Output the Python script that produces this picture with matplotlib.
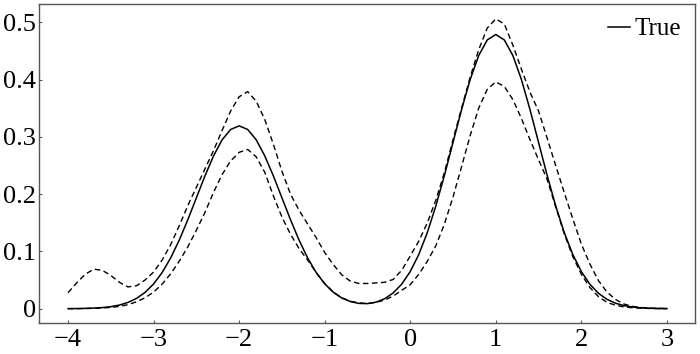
import matplotlib
matplotlib.use("Agg")
import matplotlib.pyplot as plt
import numpy as np

# grid of x positions read at 0.1 steps from -4 to 3
x = np.round(np.arange(-40, 31) / 10, 1)

true_vals = [
    0.0001, 0.0002, 0.0005, 0.0010, 0.0019, 0.0035, 0.0063, 0.0109, 0.0179, 0.0284,
    0.0432, 0.0632, 0.0887, 0.1198, 0.1554, 0.1936, 0.2318, 0.2666, 0.2947, 0.3129,
    0.3192, 0.3129, 0.2947, 0.2666, 0.2318, 0.1936, 0.1554, 0.1198, 0.0887, 0.0632,
    0.0434, 0.0287, 0.0186, 0.0124, 0.0092, 0.0088, 0.0114, 0.0173, 0.0274, 0.0428,
    0.0648, 0.0947, 0.1331, 0.1797, 0.2330, 0.2903, 0.3476, 0.3999, 0.4419, 0.4692,
    0.4787, 0.4692, 0.4419, 0.3999, 0.3476, 0.2903, 0.2330, 0.1797, 0.1331, 0.0947,
    0.0648, 0.0426, 0.0269, 0.0163, 0.0095, 0.0053, 0.0029, 0.0015, 0.0007, 0.0003,
    0.0002,
]

upper_vals = [
    0.028, 0.045, 0.060, 0.069, 0.067, 0.058, 0.046, 0.038, 0.040, 0.050,
    0.064, 0.085, 0.112, 0.145, 0.180, 0.212, 0.244, 0.276, 0.311, 0.345,
    0.370, 0.379, 0.362, 0.330, 0.287, 0.240, 0.200, 0.172, 0.148, 0.124,
    0.098, 0.077, 0.059, 0.048, 0.044, 0.044, 0.045, 0.046, 0.051, 0.067,
    0.092, 0.118, 0.150, 0.190, 0.238, 0.295, 0.350, 0.404, 0.452, 0.490,
    0.506, 0.497, 0.460, 0.418, 0.378, 0.345, 0.298, 0.250, 0.203, 0.157,
    0.113, 0.078, 0.049, 0.029, 0.016, 0.008, 0.004, 0.002, 0.001, 0.0005,
    0.0002,
]

lower_vals = [
    0.0, 0.0, 0.0003, 0.0006, 0.0012, 0.0022, 0.004, 0.007, 0.012, 0.019,
    0.029, 0.043, 0.061, 0.083, 0.108, 0.137, 0.168, 0.203, 0.234, 0.258,
    0.273, 0.278, 0.265, 0.238, 0.197, 0.160, 0.130, 0.105, 0.085, 0.063,
    0.044, 0.029, 0.019, 0.013, 0.010, 0.009, 0.011, 0.015, 0.022, 0.032,
    0.042, 0.060, 0.083, 0.110, 0.148, 0.195, 0.248, 0.302, 0.350, 0.383,
    0.396, 0.388, 0.365, 0.332, 0.295, 0.260, 0.226, 0.178, 0.131, 0.091,
    0.060, 0.037, 0.021, 0.011, 0.006, 0.003, 0.0015, 0.0008, 0.0004, 0.0002,
    0.0001,
]

x_ticks = [-4, -3, -2, -1, 0, 1, 2, 3]
x_labels = ["\u22124", "\u22123", "\u22122", "\u22121", "0", "1", "2", "3"]
y_ticks = [0, 0.1, 0.2, 0.3, 0.4, 0.5]
y_labels = ["0", "0.1", "0.2", "0.3", "0.4", "0.5"]

plt.rcParams["font.family"] = ["Liberation Serif", "DejaVu Serif"]

fig = plt.figure(figsize=(7.0, 3.54), dpi=100)
ax = fig.add_axes([0.0557, 0.0876, 0.9373, 0.9011])

ax.plot(x, true_vals, color="black", lw=1.1, label="True", solid_joinstyle="round")
ax.plot(x, upper_vals, color="black", lw=1.0, dashes=(4, 2.5))
ax.plot(x, lower_vals, color="black", lw=1.0, dashes=(4, 2.5))

ax.set_xlim(-4.34, 3.33)
ax.set_ylim(-0.025, 0.532)
ax.set_xticks(x_ticks)
ax.set_xticklabels(x_labels)
ax.set_yticks(y_ticks)
ax.set_yticklabels(y_labels)
ax.tick_params(direction="in", length=2.5, width=0.8, colors="#555555",
               labelcolor="black", labelsize=19)
ax.tick_params(axis="y", pad=2)
ax.tick_params(axis="x", pad=4)
for s in ax.spines.values():
    s.set_color("#555555")
    s.set_linewidth(1.0)

ax.legend(loc="upper right", frameon=False, fontsize=18, handlelength=0.85,
          handletextpad=0.2, borderaxespad=0.35, borderpad=0.2)

fig.savefig("out.png", dpi=100)
